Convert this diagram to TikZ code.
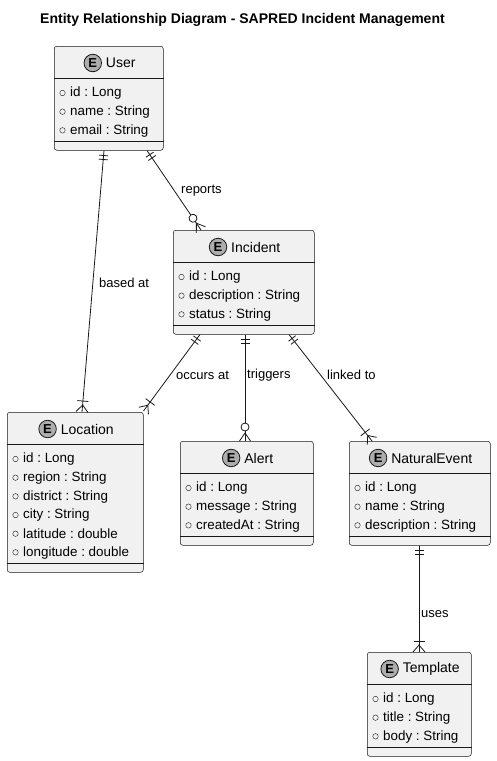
\documentclass[tikz,border=0pt]{standalone}
\usepackage{fontspec}
\setmainfont{Liberation Sans}
\usetikzlibrary{calc,decorations.markings}
\frenchspacing
\definecolor{boxfill}{HTML}{F1F1F1}
\definecolor{boxline}{HTML}{181818}
\definecolor{ecfill}{HTML}{ADADAD}
\tikzset{
  ebox/.style={draw=boxline, line width=0.5pt, fill=boxfill, rounded corners=2.5pt, inner sep=0pt},
  sepline/.style={draw=boxline, line width=0.5pt},
  ecirc/.style={circle, draw=boxline, line width=0.8pt, fill=ecfill, minimum size=17.5pt, inner sep=0pt, font=\fontsize{13}{13}\selectfont\bfseries\rmfamily},
  etitle/.style={font=\fontsize{14}{14}\selectfont, inner sep=0pt},
  attr/.style={font=\fontsize{13.4}{13}\selectfont, anchor=west, inner sep=0pt},
  acirc/.style={circle, draw=boxline, line width=0.4pt, minimum size=5.5pt, inner sep=0pt},
  lbl/.style={font=\fontsize{13}{13}\selectfont, anchor=west, inner sep=0pt},
  rel/.style={draw=boxline, line width=0.8pt},
  onlyone/.style={postaction={decorate, decoration={markings,
     mark=at position 5pt with {\draw[boxline, line width=0.8pt] (0pt,-4.5pt)--(0pt,4.5pt);},
     mark=at position 9pt with {\draw[boxline, line width=0.8pt] (0pt,-4.5pt)--(0pt,4.5pt);}}}},
  onemany/.style={postaction={decorate, decoration={markings,
     mark=at position -11pt with {\draw[boxline, line width=0.8pt] (0pt,-5.5pt)--(0pt,5.5pt);},
     mark=at position -7pt with {\draw[boxline, line width=0.8pt] (7pt,6pt)--(0pt,0pt)--(7pt,-6pt);}}}},
  zeromany/.style={postaction={decorate, decoration={markings,
     mark=at position -14pt with {\draw[boxline, line width=0.8pt, fill=white] (0pt,0pt) circle (4pt);},
     mark=at position -8pt with {\draw[boxline, line width=0.8pt] (8pt,5.5pt)--(0pt,0pt)--(8pt,-5.5pt);}}}},
}
% name, x, y(top), width, number of attributes, title, list of attributes
\newcommand\entbox[7]{%
  \pgfmathsetmacro\eh{48+#5*18.67}%
  \node[ebox, minimum width=#4pt, minimum height=\eh pt, anchor=north west] (#1) at (#2,#3) {};
  \draw[sepline] ($(#1.north west)+(0,32)$) -- ($(#1.north east)+(0,32)$);
  \draw[sepline] ($(#1.south west)+(0,-9)$) -- ($(#1.south east)+(0,-9)$);
  \node[etitle] (#1-t) at ($(#1.north)+(12,17)$) {#6};
  \node[ecirc] (#1-c) at ($(#1-t.west)+(-13,0)$) {E};
  \foreach \a [count=\i] in {#7} {
    \pgfmathsetmacro\ay{47+(\i-1)*18.67}%
    \pgfmathsetmacro\ty{47.5+(\i-1)*18.67}%
    \node[acirc] (#1-a\i) at ($(#1.north west)+(8.5,\ay)$) {};
    \node[attr] (#1-l\i) at ($(#1.north west)+(16,\ty)$) {\a};
  }%
}
\begin{document}
\begin{tikzpicture}[x=1pt,y=-1pt]
\useasboundingbox (0,0) rectangle (496,761);
\node[font=\fontsize{14}{14}\selectfont\bfseries, inner sep=0pt] (title) at (242.5,20) {Entity Relationship Diagram - SAPRED Incident Management};

\entbox{user}{54}{46}{109}{3}{User}{id : Long, name : String, email : String}
\entbox{incident}{173}{230}{141}{3}{Incident}{id : Long, description : String, status : String}
\entbox{location}{7}{412}{136}{6}{Location}{id : Long, region : String, district : String, city : String, latitude : double, longitude : double}
\entbox{alert}{180}{441}{133}{3}{Alert}{id : Long, message : String, createdAt : String}
\entbox{natev}{349}{441}{141}{3}{NaturalEvent}{id : Long, name : String, description : String}
\entbox{template}{367}{652}{104}{3}{Template}{id : Long, title : String, body : String}

\draw[rel, onlyone, onemany] ($(user.south west)+(50,0)$) -- ($(location.north west)+(75,0)$);
\draw[rel, onlyone, zeromany] ($(user.south west)+(93,0)$) -- ($(incident.north west)+(28,0)$);
\draw[rel, onlyone, onemany] ($(incident.south west)+(27,0)$) -- ($(location.north east)+(0,-1)$);
\draw[rel, onlyone, zeromany] ($(incident.south west)+(72,0)$) -- ($(alert.north west)+(65,0)$);
\draw[rel, onlyone, onemany] ($(incident.south west)+(116,0)$) -- ($(natev.north west)+(23,0)$);
\draw[rel, onlyone, onemany] ($(natev.south west)+(70,0)$) -- ($(template.north west)+(52,0)$);

\node[lbl] (l-based) at (99,283) {based at};
\node[lbl] (l-reports) at (181,191) {reports};
\node[lbl] (l-occurs) at (176,375) {occurs at};
\node[lbl] (l-triggers) at (247,375) {triggers};
\node[lbl] (l-linked) at (327,375) {linked to};
\node[lbl] (l-uses) at (421,614) {uses};
\end{tikzpicture}
\end{document}
